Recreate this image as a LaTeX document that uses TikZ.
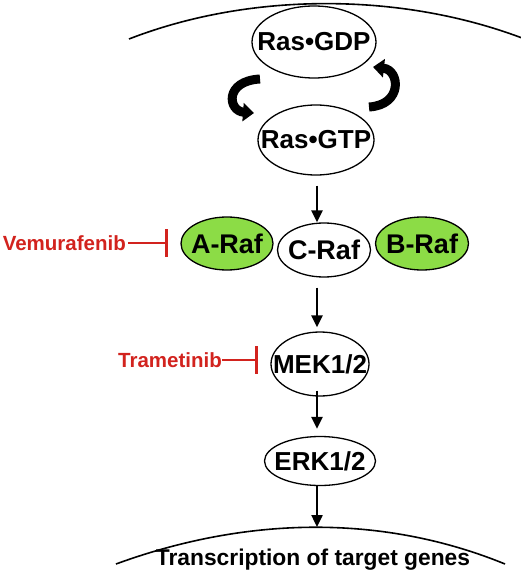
\documentclass[tikz,border=0pt]{standalone}
\usepackage{fontspec}
\setmainfont{Liberation Sans}
\usetikzlibrary{shapes.geometric,arrows.meta}
\definecolor{rafgreen}{RGB}{140,220,70}
\definecolor{drugred}{RGB}{210,35,30}
\begin{document}
\begin{tikzpicture}[x=1pt,y=-1pt,
  ell/.style={ellipse, draw=black, line width=1.3pt, inner sep=0pt, font=\bfseries\fontsize{26}{26}\selectfont},
  arr/.style={line width=2.4pt, -{Triangle[width=11pt,length=12pt]}},
  inh/.style={draw=drugred, line width=2.8pt, -{Bar[width=28pt,line width=2.8pt]}},
  drug/.style={text=drugred, font=\bfseries\fontsize{20.5}{20.5}\selectfont, inner sep=0pt},
  cyc/.style={line width=9pt, -{Triangle[width=18pt,length=11pt]}}]
\useasboundingbox (0,0) rectangle (520,577);
% membrane and nucleus arcs
\draw[line width=1.6pt] (129,39) .. controls (250,-8) and (400,-8) .. (522,38);
\draw[line width=1.6pt] (116,564) .. controls (250,515) and (385,515) .. (505,564);
% nodes
\node[ell, minimum width=124pt, minimum height=72pt] (gdp) at (314,42) {\makebox[0pt]{Ras•GDP}};
\node[ell, minimum width=116pt, minimum height=70pt] (gtp) at (316,140) {\makebox[0pt]{Ras•GTP}};
\node[ell, fill=rafgreen, minimum width=92pt, minimum height=53pt] (araf) at (227,243.5) {\makebox[0pt]{\fontsize{27}{27}\selectfont A-Raf}};
\node[ell, minimum width=93pt, minimum height=54pt] (craf) at (324,250) {\makebox[0pt]{\fontsize{27}{27}\selectfont C-Raf}};
\node[ell, fill=rafgreen, minimum width=93pt, minimum height=53pt] (braf) at (422,243.5) {\makebox[0pt]{\fontsize{27}{27}\selectfont B-Raf}};
\node[ell, minimum width=98pt, minimum height=64pt] (mek) at (320,364) {\makebox[0pt]{MEK1/2}};
\node[ell, minimum width=111pt, minimum height=49pt] (erk) at (320,461) {\makebox[0pt]{ERK1/2}};
\node[font=\bfseries\fontsize{22.8}{22.8}\selectfont, inner sep=0pt] (tx) at (313,560) {Transcription of target genes};
\coordinate (nuc) at (317,527);
% GDP/GTP cycle arrows
\draw[cyc] (260,79) .. controls (224,81) and (228,111) .. (254,113);
\draw[cyc] (369,107) .. controls (403,105) and (400,70) .. (373,67);
% pathway arrows
\draw[arr, shorten <=10pt] (317,0 |- gtp.south) -- (317,0 |- craf.north);
\draw[arr, shorten <=10pt, shorten >=4pt] (317,0 |- craf.south) -- (317,0 |- mek.north);
\draw[arr, shorten <=-6pt, shorten >=7pt] (317,0 |- mek.south) -- (317,0 |- erk.north);
\draw[arr] (317,0 |- erk.south) -- (nuc);
% drugs
\node[drug, anchor=east] (vem) at (126,243) {Vemurafenib};
\coordinate (vbar) at (168,243);
\draw[inh] (vem.east) ++(2,0) -- (vbar);
\node[drug, anchor=east] (tra) at (222,360) {Trametinib};
\coordinate (tbar) at (258,360);
\draw[inh] (tra.east) -- (tbar);
\end{tikzpicture}
\end{document}
